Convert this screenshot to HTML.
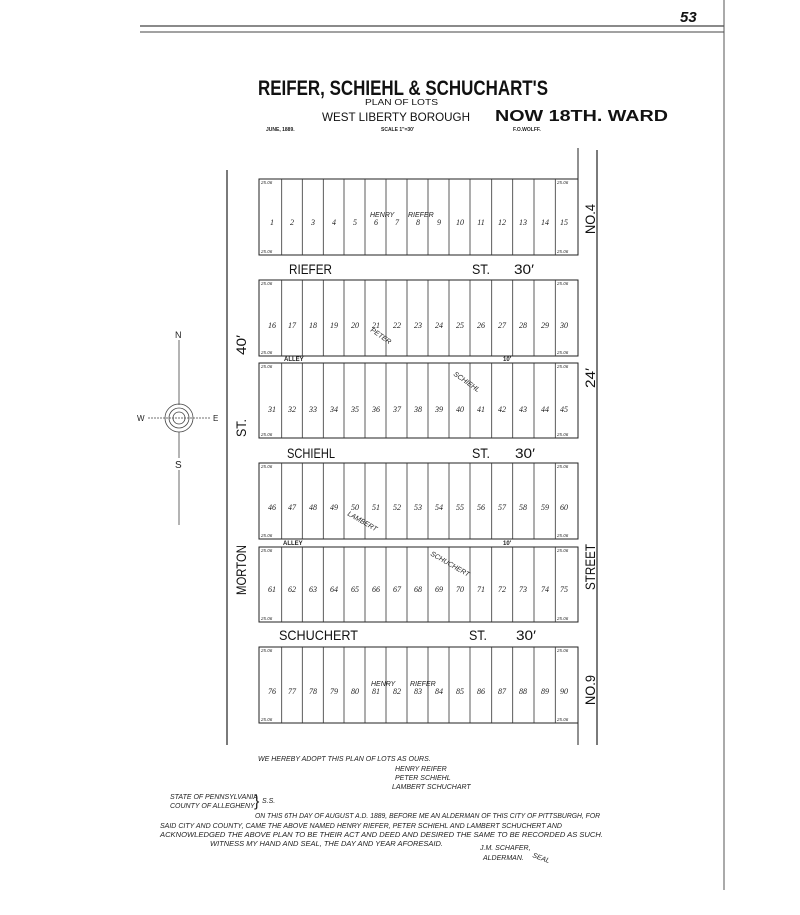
<!DOCTYPE html>
<html><head><meta charset="utf-8"><style>
html,body{margin:0;padding:0;background:#fff;}
svg{display:block;}
.t{font-family:"Liberation Sans",sans-serif;fill:#111;}
.n{font-family:"Liberation Serif",serif;font-style:italic;font-size:8px;fill:#222;text-anchor:middle;}
.c{font-family:"Liberation Sans",sans-serif;font-size:4.5px;font-style:italic;fill:#333;}
.s{font-family:"Liberation Sans",sans-serif;font-size:7px;font-style:italic;fill:#222;}
</style></head><body>
<svg width="800" height="915" viewBox="0 0 800 915" xmlns="http://www.w3.org/2000/svg">
<rect width="800" height="915" fill="#fff"/>
<line x1="140" y1="26" x2="724" y2="26" stroke="#444" stroke-width="1.2"/>
<line x1="140" y1="32" x2="724" y2="32" stroke="#444" stroke-width="1"/>
<line x1="724" y1="0" x2="724" y2="890" stroke="#555" stroke-width="1"/>
<text x="680" y="22" font-family="Liberation Sans" font-style="italic" font-weight="bold" font-size="15" fill="#111">53</text>
<text x="258" y="95" class="t" font-size="21" font-weight="bold" textLength="290" lengthAdjust="spacingAndGlyphs">REIFER, SCHIEHL &amp; SCHUCHART'S</text>
<text x="365" y="105" class="t" font-size="8.5" textLength="73" lengthAdjust="spacingAndGlyphs">PLAN OF LOTS</text>
<text x="322" y="121" class="t" font-size="12" textLength="148" lengthAdjust="spacingAndGlyphs">WEST LIBERTY BOROUGH</text>
<text x="495" y="121" class="t" font-size="16" font-weight="bold" textLength="173" lengthAdjust="spacingAndGlyphs">NOW 18TH. WARD</text>
<text x="266" y="131" font-family="Liberation Sans" font-size="5" font-weight="bold" fill="#222">JUNE, 1889.</text>
<text x="381" y="131" font-family="Liberation Sans" font-size="5" font-weight="bold" fill="#222">SCALE 1"=30'</text>
<text x="513" y="131" font-family="Liberation Sans" font-size="5" font-weight="bold" fill="#222">F.O.WOLFF.</text>
<line x1="227" y1="170" x2="227" y2="745" stroke="#222" stroke-width="1.2"/>
<line x1="597" y1="150" x2="597" y2="745" stroke="#222" stroke-width="1.2"/>
<line x1="578" y1="148" x2="578" y2="179" stroke="#222" stroke-width="1"/>
<line x1="578" y1="723" x2="578" y2="745" stroke="#222" stroke-width="1"/>
<g fill="none" stroke="#222" stroke-width="1">
<rect x="259" y="179" width="319" height="76"/>
<rect x="259" y="280" width="319" height="76"/>
<rect x="259" y="363" width="319" height="75"/>
<rect x="259" y="463" width="319" height="76"/>
<rect x="259" y="547" width="319" height="75"/>
<rect x="259" y="647" width="319" height="76"/>
</g>
<g stroke="#333" stroke-width="0.8">
<path d="M281.7 179V255M302.3 179V255M323.3 179V255M344 179V255M365 179V255M386 179V255M407 179V255M428 179V255M449 179V255M470 179V255M491.7 179V255M512.7 179V255M534 179V255M555.3 179V255"/>
<path d="M281.7 280V356M302.3 280V356M323.3 280V356M344 280V356M365 280V356M386 280V356M407 280V356M428 280V356M449 280V356M470 280V356M491.7 280V356M512.7 280V356M534 280V356M555.3 280V356"/>
<path d="M281.7 363V438M302.3 363V438M323.3 363V438M344 363V438M365 363V438M386 363V438M407 363V438M428 363V438M449 363V438M470 363V438M491.7 363V438M512.7 363V438M534 363V438M555.3 363V438"/>
<path d="M281.7 463V539M302.3 463V539M323.3 463V539M344 463V539M365 463V539M386 463V539M407 463V539M428 463V539M449 463V539M470 463V539M491.7 463V539M512.7 463V539M534 463V539M555.3 463V539"/>
<path d="M281.7 547V622M302.3 547V622M323.3 547V622M344 547V622M365 547V622M386 547V622M407 547V622M428 547V622M449 547V622M470 547V622M491.7 547V622M512.7 547V622M534 547V622M555.3 547V622"/>
<path d="M281.7 647V723M302.3 647V723M323.3 647V723M344 647V723M365 647V723M386 647V723M407 647V723M428 647V723M449 647V723M470 647V723M491.7 647V723M512.7 647V723M534 647V723M555.3 647V723"/>
</g>
<g class="n">
<text x="272" y="225">1</text><text x="292" y="225">2</text><text x="313" y="225">3</text><text x="334" y="225">4</text><text x="355" y="225">5</text><text x="376" y="225">6</text><text x="397" y="225">7</text><text x="418" y="225">8</text><text x="439" y="225">9</text><text x="460" y="225">10</text><text x="481" y="225">11</text><text x="502" y="225">12</text><text x="523" y="225">13</text><text x="545" y="225">14</text><text x="564" y="225">15</text>
<text x="272" y="328">16</text><text x="292" y="328">17</text><text x="313" y="328">18</text><text x="334" y="328">19</text><text x="355" y="328">20</text><text x="376" y="328">21</text><text x="397" y="328">22</text><text x="418" y="328">23</text><text x="439" y="328">24</text><text x="460" y="328">25</text><text x="481" y="328">26</text><text x="502" y="328">27</text><text x="523" y="328">28</text><text x="545" y="328">29</text><text x="564" y="328">30</text>
<text x="272" y="412">31</text><text x="292" y="412">32</text><text x="313" y="412">33</text><text x="334" y="412">34</text><text x="355" y="412">35</text><text x="376" y="412">36</text><text x="397" y="412">37</text><text x="418" y="412">38</text><text x="439" y="412">39</text><text x="460" y="412">40</text><text x="481" y="412">41</text><text x="502" y="412">42</text><text x="523" y="412">43</text><text x="545" y="412">44</text><text x="564" y="412">45</text>
<text x="272" y="510">46</text><text x="292" y="510">47</text><text x="313" y="510">48</text><text x="334" y="510">49</text><text x="355" y="510">50</text><text x="376" y="510">51</text><text x="397" y="510">52</text><text x="418" y="510">53</text><text x="439" y="510">54</text><text x="460" y="510">55</text><text x="481" y="510">56</text><text x="502" y="510">57</text><text x="523" y="510">58</text><text x="545" y="510">59</text><text x="564" y="510">60</text>
<text x="272" y="592">61</text><text x="292" y="592">62</text><text x="313" y="592">63</text><text x="334" y="592">64</text><text x="355" y="592">65</text><text x="376" y="592">66</text><text x="397" y="592">67</text><text x="418" y="592">68</text><text x="439" y="592">69</text><text x="460" y="592">70</text><text x="481" y="592">71</text><text x="502" y="592">72</text><text x="523" y="592">73</text><text x="545" y="592">74</text><text x="564" y="592">75</text>
<text x="272" y="694">76</text><text x="292" y="694">77</text><text x="313" y="694">78</text><text x="334" y="694">79</text><text x="355" y="694">80</text><text x="376" y="694">81</text><text x="397" y="694">82</text><text x="418" y="694">83</text><text x="439" y="694">84</text><text x="460" y="694">85</text><text x="481" y="694">86</text><text x="502" y="694">87</text><text x="523" y="694">88</text><text x="545" y="694">89</text><text x="564" y="694">90</text>
</g>
<g class="s">
<text x="370" y="217">HENRY</text><text x="408" y="217">RIEFER</text>
<text x="370" y="331" transform="rotate(35 370 331)">PETER</text>
<text x="453" y="375" transform="rotate(35 453 375)">SCHIEHL</text>
<text x="347" y="515" transform="rotate(30 347 515)">LAMBERT</text>
<text x="430" y="555" transform="rotate(30 430 555)">SCHUCHERT</text>
<text x="371" y="686">HENRY</text><text x="410" y="686">RIEFER</text>
</g>
<g class="c">
<text x="261" y="184">25.06</text><text x="557" y="184">25.06</text><text x="261" y="253">25.06</text><text x="557" y="253">25.06</text>
<text x="261" y="285">25.06</text><text x="557" y="285">25.06</text><text x="261" y="354">25.06</text><text x="557" y="354">25.06</text>
<text x="261" y="368">25.06</text><text x="557" y="368">25.06</text><text x="261" y="436">25.06</text><text x="557" y="436">25.06</text>
<text x="261" y="468">25.06</text><text x="557" y="468">25.06</text><text x="261" y="537">25.06</text><text x="557" y="537">25.06</text>
<text x="261" y="552">25.06</text><text x="557" y="552">25.06</text><text x="261" y="620">25.06</text><text x="557" y="620">25.06</text>
<text x="261" y="652">25.06</text><text x="557" y="652">25.06</text><text x="261" y="721">25.06</text><text x="557" y="721">25.06</text>
</g>
<g class="t" font-size="14">
<text x="289" y="274" textLength="43" lengthAdjust="spacingAndGlyphs">RIEFER</text><text x="472" y="274" textLength="18" lengthAdjust="spacingAndGlyphs">ST.</text><text x="514" y="274" textLength="20" lengthAdjust="spacingAndGlyphs">30′</text>
<text x="287" y="458" textLength="48" lengthAdjust="spacingAndGlyphs">SCHIEHL</text><text x="472" y="458" textLength="18" lengthAdjust="spacingAndGlyphs">ST.</text><text x="515" y="458" textLength="20" lengthAdjust="spacingAndGlyphs">30′</text>
<text x="279" y="640" textLength="79" lengthAdjust="spacingAndGlyphs">SCHUCHERT</text><text x="469" y="640" textLength="18" lengthAdjust="spacingAndGlyphs">ST.</text><text x="516" y="640" textLength="20" lengthAdjust="spacingAndGlyphs">30′</text>
</g>
<g font-family="Liberation Sans" font-size="6" font-weight="bold" fill="#222">
<text x="284" y="361">ALLEY</text><text x="503" y="361">10′</text>
<text x="283" y="545">ALLEY</text><text x="503" y="545">10′</text>
</g>
<g class="t" font-size="14">
<text transform="translate(246 355) rotate(-90)" textLength="20" lengthAdjust="spacingAndGlyphs">40′</text>
<text transform="translate(246 437) rotate(-90)" textLength="18" lengthAdjust="spacingAndGlyphs">ST.</text>
<text transform="translate(246 595) rotate(-90)" textLength="50" lengthAdjust="spacingAndGlyphs">MORTON</text>
<text transform="translate(595 234) rotate(-90)" textLength="30" lengthAdjust="spacingAndGlyphs">NO.4</text>
<text transform="translate(595 388) rotate(-90)" textLength="20" lengthAdjust="spacingAndGlyphs">24′</text>
<text transform="translate(595 590) rotate(-90)" textLength="46" lengthAdjust="spacingAndGlyphs">STREET</text>
<text transform="translate(595 705) rotate(-90)" textLength="30" lengthAdjust="spacingAndGlyphs">NO.9</text>
</g>
<g stroke="#444" fill="none" stroke-width="0.8">
<line x1="179" y1="340" x2="179" y2="405"/>
<line x1="179" y1="432" x2="179" y2="458"/>
<line x1="179" y1="470" x2="179" y2="525"/>
<line x1="148" y1="418" x2="210" y2="418" stroke-dasharray="2 1"/>
<circle cx="179" cy="418" r="14"/><circle cx="179" cy="418" r="10"/><circle cx="179" cy="418" r="6"/>
</g>
<text x="175" y="338" font-family="Liberation Sans" font-size="9" fill="#222">N</text>
<text x="137" y="421" font-family="Liberation Sans" font-size="8" fill="#222">W</text>
<text x="213" y="421" font-family="Liberation Sans" font-size="8" fill="#222">E</text>
<text x="175" y="468" font-family="Liberation Sans" font-size="10" fill="#222">S</text>
<g class="s" font-size="7">
<text x="258" y="761">WE HEREBY ADOPT THIS PLAN OF LOTS AS OURS.</text>
<text x="395" y="771">HENRY REIFER</text>
<text x="395" y="780">PETER SCHIEHL</text>
<text x="392" y="789">LAMBERT SCHUCHART</text>
<text x="170" y="799">STATE OF PENNSYLVANIA</text>
<text x="170" y="808">COUNTY OF ALLEGHENY</text>
<text x="254" y="806" font-size="16" font-style="normal">}</text>
<text x="262" y="803">S.S.</text>
<text x="255" y="818" textLength="345" lengthAdjust="spacingAndGlyphs">ON THIS 6TH DAY OF AUGUST A.D. 1889, BEFORE ME AN ALDERMAN OF THIS CITY OF PITTSBURGH, FOR</text>
<text x="160" y="828" textLength="402" lengthAdjust="spacingAndGlyphs">SAID CITY AND COUNTY, CAME THE ABOVE NAMED HENRY RIEFER, PETER SCHIEHL AND LAMBERT SCHUCHERT AND</text>
<text x="160" y="837" textLength="443" lengthAdjust="spacingAndGlyphs">ACKNOWLEDGED THE ABOVE PLAN TO BE THEIR ACT AND DEED AND DESIRED THE SAME TO BE RECORDED AS SUCH.</text>
<text x="210" y="846" textLength="233" lengthAdjust="spacingAndGlyphs">WITNESS MY HAND AND SEAL, THE DAY AND YEAR AFORESAID.</text>
<text x="480" y="850">J.M. SCHAFER,</text>
<text x="483" y="860">ALDERMAN.</text>
<text x="532" y="857" transform="rotate(20 532 857)">SEAL</text>
</g>
</svg>
</body></html>
